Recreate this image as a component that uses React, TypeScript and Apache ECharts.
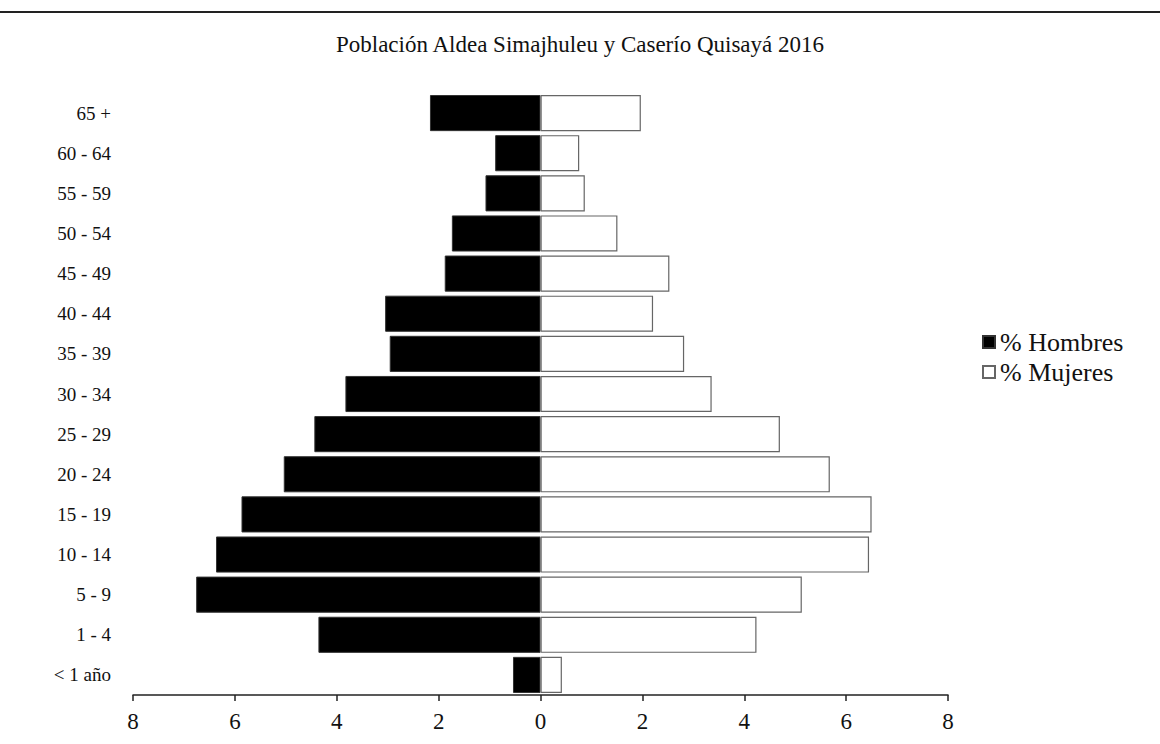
import React, { useEffect, useRef } from "react";
import * as echarts from "echarts";

const categories = [
  "< 1 año", "1 - 4", "5 - 9", "10 - 14", "15 - 19", "20 - 24", "25 - 29",
  "30 - 34", "35 - 39", "40 - 44", "45 - 49", "50 - 54", "55 - 59", "60 - 64", "65 +",
];
const hombres = [0.54, 4.36, 6.76, 6.37, 5.87, 5.04, 4.44, 3.83, 2.96, 3.05, 1.88, 1.74, 1.08, 0.89, 2.17];
const mujeres = [0.42, 4.24, 5.13, 6.45, 6.5, 5.68, 4.7, 3.36, 2.82, 2.21, 2.53, 1.51, 0.87, 0.76, 1.97];
const xTicks = { min: -8, max: 8, interval: 2 };
const titleText = "Población Aldea Simajhuleu y Caserío Quisayá 2016";

const FONT = "'Liberation Serif', 'Times New Roman', serif";

export default function App() {
  const ref = useRef<HTMLDivElement>(null);
  useEffect(() => {
    if (!ref.current) return;
    const chart = echarts.init(ref.current, undefined, { renderer: "svg" });
    chart.setOption({
      animation: false,
      backgroundColor: "#ffffff",
      title: {
        text: titleText,
        left: "center",
        top: 28,
        textStyle: { fontFamily: FONT, fontSize: 23, fontWeight: "normal", color: "#111" },
      },
      graphic: [
        {
          type: "line",
          shape: { x1: 0, y1: 12, x2: 1160, y2: 12 },
          style: { stroke: "#222", lineWidth: 2 },
        },
      ],
      legend: {
        orient: "vertical",
        left: 977,
        top: 324,
        itemWidth: 12,
        itemHeight: 12,
        itemGap: 4,
        textStyle: { fontFamily: FONT, fontSize: 26, color: "#111" },
        data: [
          { name: "% Hombres", icon: "rect" },
          { name: "% Mujeres", icon: "rect" },
        ],
      },
      grid: { left: 133, right: 212, top: 93, bottom: 49, containLabel: false, outerBoundsMode: "none" },
      xAxis: {
        type: "value",
        min: xTicks.min,
        max: xTicks.max,
        interval: xTicks.interval,
        axisLine: { show: true, lineStyle: { color: "#222", width: 1.5 } },
        axisTick: { show: true, length: 6, lineStyle: { color: "#222", width: 1.5 } },
        splitLine: { show: false },
        axisLabel: {
          fontFamily: FONT,
          fontSize: 23,
          color: "#111",
          margin: 15,
          formatter: (v: number) => String(Math.abs(v)),
        },
      },
      yAxis: {
        type: "category",
        data: categories,
        axisLine: { show: false },
        axisTick: { show: false },
        axisLabel: { fontFamily: FONT, fontSize: 19, color: "#111", margin: 22 },
      },
      series: [
        {
          name: "% Hombres",
          type: "bar",
          data: hombres.map((v) => -v),
          barGap: "-100%",
          barCategoryGap: "10%",
          itemStyle: { color: "#000", borderColor: "#333", borderWidth: 1 },
        },
        {
          name: "% Mujeres",
          type: "bar",
          data: mujeres,
          barGap: "-100%",
          barCategoryGap: "10%",
          itemStyle: { color: "#fff", borderColor: "#666", borderWidth: 1.2 },
        },
      ],
    });
    return () => chart.dispose();
  }, []);
  return <div ref={ref} style={{ position: "fixed", left: 0, top: 0, width: 1160, height: 744 }} />;
}
